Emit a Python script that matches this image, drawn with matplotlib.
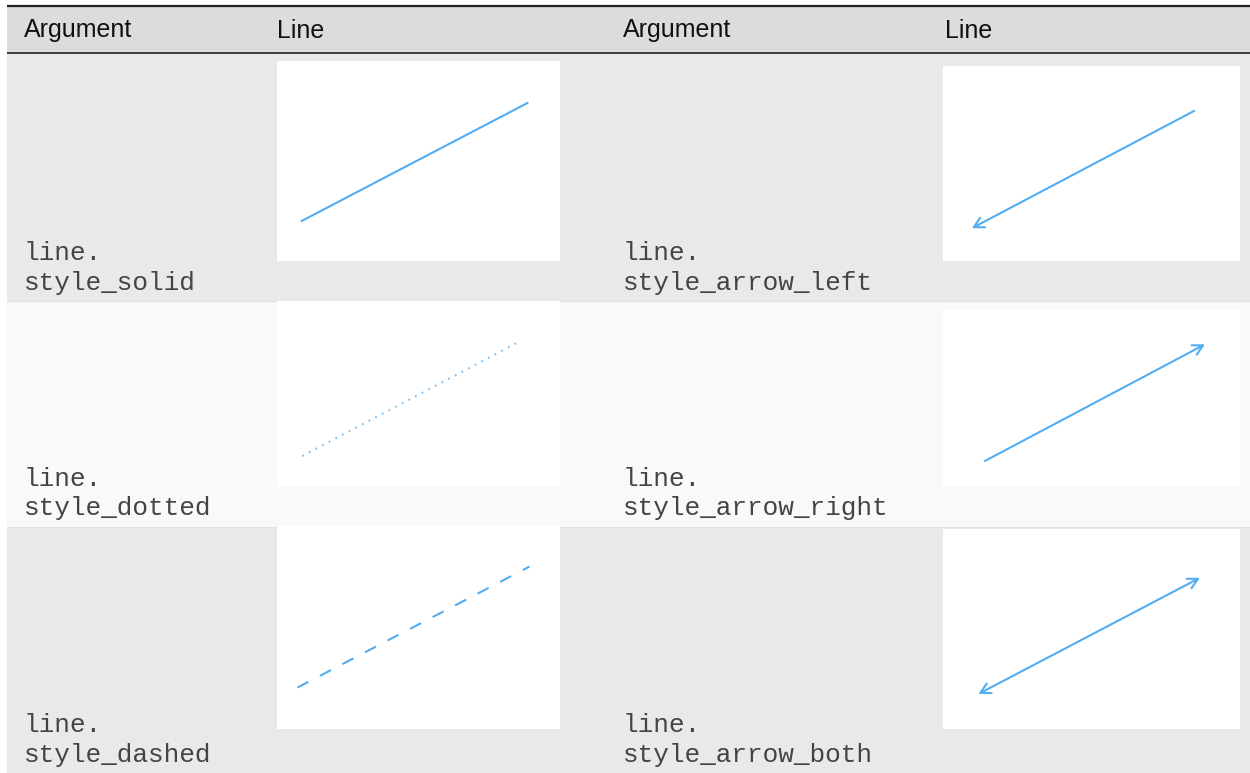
import matplotlib
matplotlib.use("Agg")
import matplotlib.pyplot as plt
from matplotlib.patches import Rectangle

# ---------------- data ----------------
header_labels = ["Argument", "Line", "Argument", "Line"]
left_args = ["line.style_solid", "line.style_dotted", "line.style_dashed"]
right_args = ["line.style_arrow_left", "line.style_arrow_right", "line.style_arrow_both"]
left_styles = ["solid", "dotted", "dashed"]
right_arrows = ["<-", "->", "<->"]
line_x = [0.0, 1.0]
line_y = [0.0, 1.0]

# ---------------- layout (pixels) ----------------
W, H = 1250, 773
plt.rcParams["lines.scale_dashes"] = False
fig = plt.figure(figsize=(W / 100, H / 100), dpi=100)
ax = fig.add_axes([0, 0, 1, 1])
ax.set_xlim(0, W)
ax.set_ylim(H, 0)
ax.axis("off")

TL, TR = 7, 1250
header = (6, 52.5)
rows = [(52.5, 301), (301, 526.5), (526.5, 773)]
row_colors = ["#e9e9e9", "#f9f9f9", "#e9e9e9"]
col_text_x = [24, 277, 623, 945]
line_color = "#52adf3"
lw = 1.5

# backgrounds
ax.add_patch(Rectangle((TL, header[0]), TR - TL, header[1] - header[0],
                       facecolor="#dcdcdc", edgecolor="none", zorder=0))
for (y0, y1), c in zip(rows, row_colors):
    ax.add_patch(Rectangle((TL, y0), TR - TL, y1 - y0, facecolor=c,
                           edgecolor="none", zorder=0))
# separators
ax.plot([TL, TR], [5.5, 5.5], color="#222222", lw=1.6, solid_capstyle="butt")
ax.plot([TL, TR], [52.5, 52.5], color="#222222", lw=1.2, solid_capstyle="butt")
for y in (301, 526.5):
    ax.plot([TL, TR], [y, y], color="#e2e2e2", lw=0.8)

# header text
for x, lab in zip(col_text_x, header_labels):
    ax.text(x, 37.5, lab, fontsize=18, family="Liberation Sans",
            color="#111111", va="baseline", ha="left")

# argument text
mono = dict(fontsize=18.8, family="Liberation Mono", color="#444444",
            va="baseline", ha="left")
for i, (y0, y1) in enumerate(rows):
    for x, arg in ((24, left_args[i]), (623, right_args[i])):
        head, tail = arg.split(".", 1)
        ax.text(x, y1 - 41, head + ".", **mono)
        ax.text(x, y1 - 11, tail, **mono)

# line image boxes: (x0, x1, y0, y1) and where the line ends sit inside them
left_boxes = [(277, 560, 61, 261), (277, 560, 301, 486), (277, 560, 526, 729)]
right_boxes = [(943, 1240, 66, 261), (943, 1240, 310, 486), (943, 1240, 529, 729)]
left_frac = [(.087, .885, .20, .79), (.089, .856, .162, .78), (.072, .892, .204, .80)]
right_frac = [(.097, .846, .168, .77), (.141, .882, .142, .805), (.119, .865, .175, .756)]


def make_cell(box, frac):
    x0, x1, y0, y1 = box
    cax = fig.add_axes([x0 / W, 1 - y1 / H, (x1 - x0) / W, (y1 - y0) / H])
    cax.set_facecolor("white")
    for s in cax.spines.values():
        s.set_visible(False)
    cax.set_xticks([])
    cax.set_yticks([])
    fx0, fx1, fy0, fy1 = frac
    rx = 1 / (fx1 - fx0)
    ry = 1 / (fy1 - fy0)
    cax.set_xlim(-fx0 * rx, (1 - fx0) * rx)
    cax.set_ylim(-fy0 * ry, (1 - fy0) * ry)
    return cax


dash_map = {"solid": "-", "dotted": (0, (1.3, 4.1)), "dashed": (0, (8.9, 9.4))}
alpha_map = {"solid": 1.0, "dotted": 0.75, "dashed": 1.0}
for i in range(3):
    cax = make_cell(left_boxes[i], left_frac[i])
    cax.plot(line_x, line_y, color=line_color, lw=lw, alpha=alpha_map[left_styles[i]],
             linestyle=dash_map[left_styles[i]], dash_capstyle="butt")

    cax = make_cell(right_boxes[i], right_frac[i])
    cax.annotate("", xy=(line_x[1], line_y[1]), xytext=(line_x[0], line_y[0]),
                 xycoords="data", textcoords="data",
                 arrowprops=dict(arrowstyle=right_arrows[i] + ",head_length=0.6,head_width=0.32",
                                 color=line_color, lw=lw, shrinkA=0, shrinkB=0,
                                 mutation_scale=12))

fig.savefig("out.png", dpi=100, facecolor="white")
